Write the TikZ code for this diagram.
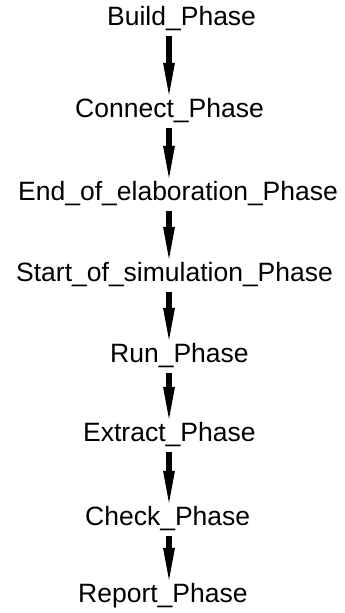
\documentclass[tikz,border=0pt]{standalone}
\usepackage{fontspec}
\setmainfont{Liberation Sans}
\usepackage{tikz}
\usetikzlibrary{arrows.meta}

\begin{document}
\begin{tikzpicture}[
    x=1pt, y=-1pt,
    phase/.style={font=\fontsize{26.5}{30}\selectfont, inner sep=0pt, text height=19pt, text depth=10pt, anchor=base west},
    arr/.style={-{Triangle[length=32pt,width=12pt,line width=0pt]}, line width=6pt, shorten <=1pt, shorten >=3pt}
]
\useasboundingbox (0,0) rectangle (345,613);
\coordinate (spine) at (169,0);
\node[phase] (build) at (107,25) {Build\_Phase};
\node[phase] (connect) at (75,117) {Connect\_Phase};
\node[phase] (elab) at (18,200) {End\_of\_elaboration\_Phase};
\node[phase] (sim) at (16,281) {Start\_of\_simulation\_Phase};
\node[phase] (run) at (110,362) {Run\_Phase};
\node[phase] (extract) at (83,441) {Extract\_Phase};
\node[phase] (check) at (85,525) {Check\_Phase};
\node[phase] (report) at (78,602) {Report\_Phase};
\draw[arr] (build.south -| spine) -- (connect.north -| spine);
\draw[arr] (connect.south -| spine) -- (elab.north -| spine);
\draw[arr] (elab.south -| spine) -- (sim.north -| spine);
\draw[arr] (sim.south -| spine) -- (run.north -| spine);
\draw[arr] (run.south -| spine) -- (extract.north -| spine);
\draw[arr] (extract.south -| spine) -- (check.north -| spine);
\draw[arr] (check.south -| spine) -- (report.north -| spine);
\end{tikzpicture}
\end{document}
